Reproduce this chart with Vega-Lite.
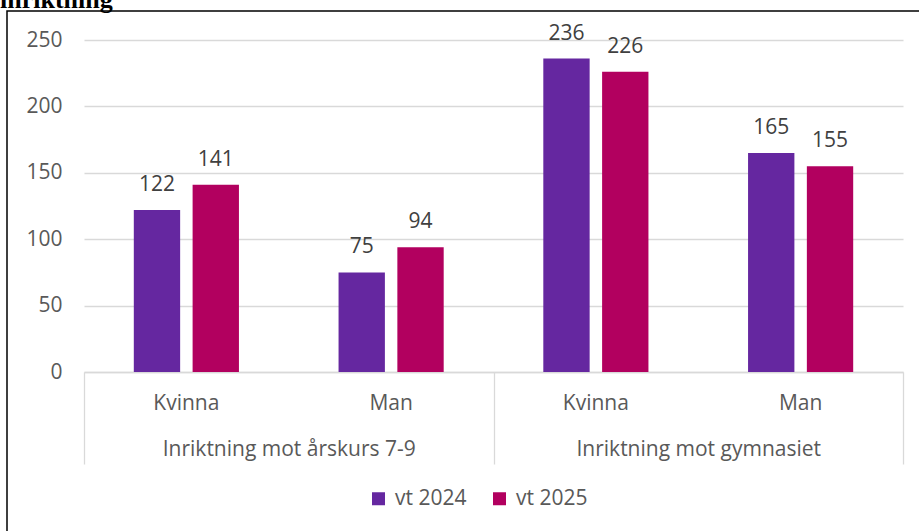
{
  "$schema": "https://vega.github.io/schema/vega-lite/v6.json",
  "autosize": {"type": "none"},
  "padding": {"left": 7, "top": 11, "right": 0, "bottom": 0},
  "width": 930,
  "height": 540,
  "background": "white",
  "title": {
    "text": "inriktning",
    "font": "Liberation Serif",
    "fontSize": 26,
    "fontWeight": "bold",
    "color": "#000000",
    "anchor": "start",
    "frame": "group",
    "baseline": "alphabetic",
    "offset": 7,
    "dx": -7,
    "dy": 30
  },
  "config": {
    "view": {"stroke": "#000000", "strokeWidth": 1.5},
    "font": "Open Sans"
  },
  "data": {
    "values": [
      {"group": "Inriktning mot årskurs 7-9", "cat": "1|Kvinna", "year": "vt 2024", "value": 122},
      {"group": "Inriktning mot årskurs 7-9", "cat": "1|Kvinna", "year": "vt 2025", "value": 141},
      {"group": "Inriktning mot årskurs 7-9", "cat": "2|Man", "year": "vt 2024", "value": 75},
      {"group": "Inriktning mot årskurs 7-9", "cat": "2|Man", "year": "vt 2025", "value": 94},
      {"group": "Inriktning mot gymnasiet", "cat": "3|Kvinna", "year": "vt 2024", "value": 236},
      {"group": "Inriktning mot gymnasiet", "cat": "3|Kvinna", "year": "vt 2025", "value": 226},
      {"group": "Inriktning mot gymnasiet", "cat": "4|Man", "year": "vt 2024", "value": 165},
      {"group": "Inriktning mot gymnasiet", "cat": "4|Man", "year": "vt 2025", "value": 155}
    ]
  },
  "layer": [
    {
      "encoding": {
        "x": {
          "field": "cat",
          "type": "nominal",
          "sort": null,
          "title": null,
          "scale": {"range": [77, 896], "paddingInner": 0, "paddingOuter": 0},
          "axis": {
            "orient": "bottom",
            "offset": -179,
            "labelExpr": "split(datum.label, '|')[1]",
            "labelAngle": 0,
            "labelFontSize": 21,
            "labelColor": "#595959",
            "labelPadding": 20,
            "labelLimit": 0,
            "ticks": false,
            "domainColor": "#d9d9d9",
            "domainWidth": 1.3,
            "grid": false
          }
        },
        "xOffset": {
          "field": "year",
          "type": "nominal",
          "scale": {"paddingInner": 0.212, "paddingOuter": 0.847}
        },
        "y": {
          "field": "value",
          "type": "quantitative",
          "title": null,
          "scale": {"domain": [0, 250], "nice": false, "range": [361, 29]},
          "axis": {
            "values": [0, 50, 100, 150, 200, 250],
            "offset": -77,
            "domain": false,
            "ticks": false,
            "labelPadding": 22,
            "labelFontSize": 21,
            "labelColor": "#595959",
            "gridColor": "#d9d9d9",
            "gridWidth": 1.3
          }
        }
      },
      "layer": [
        {
          "mark": {"type": "bar"},
          "encoding": {
            "color": {
              "field": "year",
              "type": "nominal",
              "scale": {"domain": ["vt 2024", "vt 2025"], "range": ["#6527A0", "#B2005F"]},
              "legend": {
                "title": null,
                "orient": "none",
                "legendX": 361,
                "legendY": 477,
                "direction": "horizontal",
                "symbolType": "square",
                "symbolSize": 169,
                "symbolStrokeWidth": 0,
                "labelFontSize": 21,
                "labelColor": "#595959",
                "labelOffset": 6,
                "columnPadding": 22
              }
            }
          }
        },
        {
          "mark": {"type": "text", "baseline": "alphabetic", "dy": -19, "fontSize": 21, "color": "#404040"},
          "encoding": {"text": {"field": "value", "type": "quantitative"}}
        }
      ]
    },
    {
      "mark": {"type": "tick", "opacity": 0},
      "encoding": {
        "x": {
          "field": "group",
          "type": "nominal",
          "sort": null,
          "title": null,
          "scale": {"range": [77, 896], "paddingInner": 0, "paddingOuter": 0},
          "axis": {
            "orient": "bottom",
            "offset": -179,
            "domain": false,
            "tickBand": "extent",
            "tickSize": 92,
            "tickColor": "#d9d9d9",
            "tickWidth": 1.3,
            "labelAngle": 0,
            "labelFontSize": 21,
            "labelColor": "#595959",
            "labelPadding": -26,
            "labelLimit": 0
          }
        }
      }
    }
  ],
  "resolve": {"scale": {"x": "independent"}, "axis": {"x": "independent"}}
}
